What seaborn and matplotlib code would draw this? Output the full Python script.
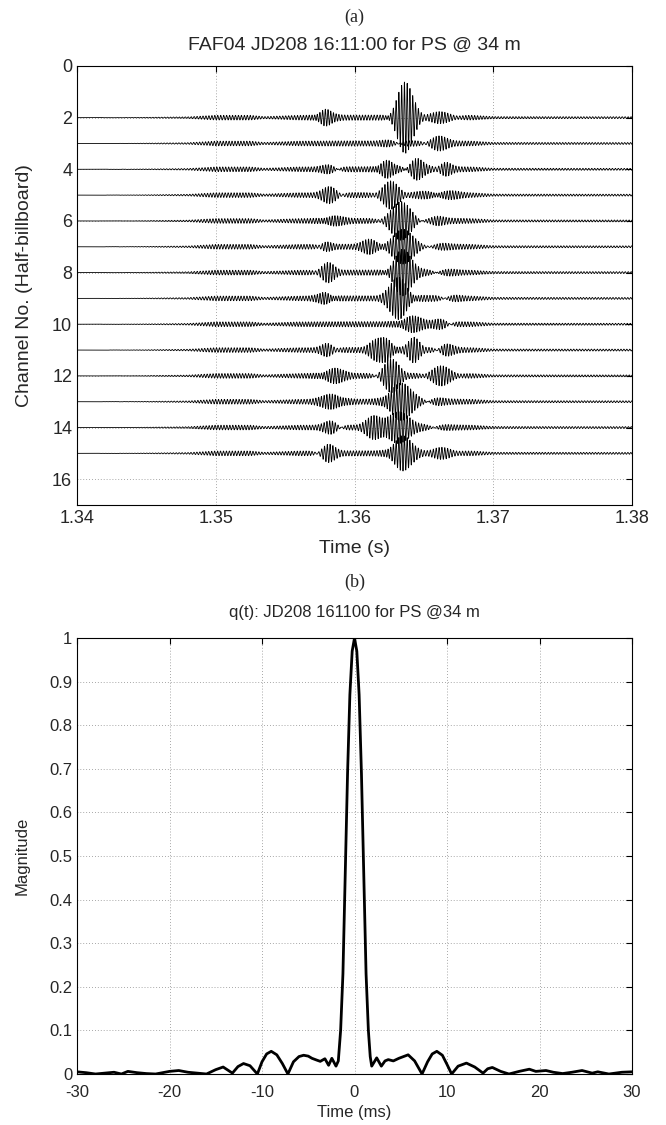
import numpy as np
import pandas as pd
import matplotlib
matplotlib.use("Agg")
import matplotlib.pyplot as plt
import seaborn as sns

# ---- panel (a): per-channel wave packets ----
# time offsets in ms from 1.34 s: (centre, amplitude in channel units, width sigma in ms)
channels = [2, 3, 4, 5, 6, 7, 8, 9, 10, 11, 12, 13, 14, 15]
packets = {
    2:  [(17.9, 0.42, 0.45), (23.6, 1.37, 0.55), (26.3, 0.12, 0.8)],
    3:  [(22.8, 0.12, 0.5), (25.9, 0.22, 0.6)],
    4:  [(18.3, 0.20, 0.45), (22.3, 0.45, 0.45), (24.4, 0.45, 0.45), (26.5, 0.20, 0.4)],
    5:  [(18.3, 0.28, 0.5), (22.6, 0.45, 0.55), (26.1, 0.20, 0.8)],
    6:  [(18.4, 0.28, 0.55), (23.4, 0.65, 0.75), (25.8, 0.10, 0.5)],
    7:  [(17.9, 0.15, 0.35), (21.2, 0.26, 0.5), (23.4, 0.58, 0.8), (25.8, 0.08, 0.6)],
    8:  [(18.05, 0.32, 0.45), (23.4, 0.90, 0.6), (26.0, 0.13, 0.7)],
    9:  [(17.9, 0.32, 0.45), (23.25, 0.84, 0.6), (26.8, 0.12, 0.5)],
    10: [(24.0, 0.39, 0.6), (26.4, 0.20, 0.45)],
    11: [(18.1, 0.20, 0.4), (21.5, 0.28, 0.4), (22.3, 0.52, 0.45), (24.3, 0.39, 0.4), (26.5, 0.23, 0.45)],
    12: [(18.4, 0.36, 0.6), (22.6, 0.58, 0.55), (26.2, 0.28, 0.7)],
    13: [(18.4, 0.39, 0.6), (23.25, 0.78, 0.7), (25.6, 0.15, 0.5)],
    14: [(18.4, 0.26, 0.45), (21.4, 0.36, 0.5), (23.0, 0.65, 0.75), (25.6, 0.10, 0.6)],
    15: [(18.05, 0.32, 0.45), (23.4, 0.75, 0.6), (26.3, 0.12, 0.7)],
}
# low-level background ripple shared by all traces (ms, channel units)
bg_t = [0, 4, 8, 10, 12.5, 13.5, 16, 19, 22, 26, 28.5, 30, 40]
bg_level = [0.0, 0.006, 0.03, 0.09, 0.09, 0.04, 0.09, 0.1, 0.1, 0.12, 0.09, 0.04, 0.035]
carrier_khz = 5.0

# ---- panel (b): q(t) magnitude ----
q_t = [-30, -29, -28, -27, -26, -25.2, -24.5, -23.5, -22.5, -21.5, -20.5, -20, -19, -18,
       -17, -16, -15, -14.2, -13.2, -12.6, -12, -11.3, -10.5, -10.0, -9.5, -9.0, -8.4,
       -7.8, -7.2, -6.6, -6.0, -5.5, -5.0, -4.6, -4.1, -3.7, -3.2, -2.8, -2.45, -2.0,
       -1.75, -1.5, -1.25, -1.0, -0.75, -0.5, -0.25, 0, 0.25, 0.5, 0.75, 1.0, 1.25, 1.5,
       1.7, 1.86, 2.4, 2.9, 3.3, 3.65, 4.2, 4.8, 5.8, 6.5, 7.3, 7.9, 8.4, 8.9, 9.5, 10.0,
       10.5, 11.2, 12.1, 13.0, 13.9, 14.4, 14.9, 15.8, 16.7, 17.8, 18.9, 19.6, 20.7, 21.5,
       22.5, 23.5, 24.6, 25.7, 26.3, 27.5, 28.9, 30]
q_mag = [0.005, 0.003, 0.0, 0.002, 0.004, 0.0, 0.006, 0.003, 0.001, 0.0, 0.004, 0.006,
         0.008, 0.004, 0.002, 0.0, 0.01, 0.016, 0.002, 0.017, 0.024, 0.019, 0.0, 0.028,
         0.046, 0.052, 0.044, 0.024, 0.0, 0.028, 0.04, 0.043, 0.041, 0.036, 0.032, 0.029,
         0.035, 0.02, 0.036, 0.018, 0.03, 0.1, 0.23, 0.46, 0.69, 0.87, 0.97, 1.0, 0.97,
         0.87, 0.69, 0.46, 0.23, 0.1, 0.04, 0.018, 0.037, 0.018, 0.03, 0.033, 0.03, 0.036,
         0.044, 0.03, 0.0, 0.028, 0.046, 0.052, 0.043, 0.022, 0.0, 0.018, 0.025, 0.016,
         0.002, 0.012, 0.015, 0.006, 0.0, 0.006, 0.011, 0.006, 0.008, 0.004, 0.001, 0.004,
         0.008, 0.002, 0.005, 0.0, 0.004, 0.005]

# build traces
t_ms = np.arange(0, 40.0001, 0.01)
rows = []
for ch in channels:
    sig = np.interp(t_ms, bg_t, bg_level) * np.cos(2 * np.pi * 4.7 * t_ms + ch)
    for c, a, w in packets[ch]:
        sig = sig + a * np.exp(-0.5 * ((t_ms - c) / w) ** 2) * np.cos(2 * np.pi * carrier_khz * (t_ms - c))
    rows.append(pd.DataFrame({"t": 1.34 + t_ms / 1000.0, "y": ch - sig, "channel": ch}))
traces = pd.concat(rows, ignore_index=True)
qdf = pd.DataFrame({"t": q_t, "mag": q_mag})

sns.set_style("white")
plt.rcParams["font.family"] = ["Liberation Sans", "DejaVu Sans"]
plt.rcParams["axes.unicode_minus"] = False

fig = plt.figure(figsize=(6.66, 11.25), dpi=100)
ax_a = fig.add_axes([77 / 666, 1 - 505 / 1125, 555 / 666, 439 / 1125])
ax_b = fig.add_axes([77 / 666, 1 - 1074 / 1125, 555 / 666, 436 / 1125])

sns.lineplot(data=traces, x="t", y="y", units="channel", estimator=None, sort=False,
             color="black", lw=0.6, ax=ax_a)
ax_a.set_xlim(1.34, 1.38)
ax_a.set_ylim(17, 0)
ax_a.set_xticks([1.34, 1.35, 1.36, 1.37, 1.38])
ax_a.set_xticklabels(["1.34", "1.35", "1.36", "1.37", "1.38"])
ax_a.set_yticks(range(0, 17, 2))
ax_a.set_xlabel("Time (s)", fontsize=14)
ax_a.set_ylabel("Channel No. (Half-billboard)", fontsize=14)
ax_a.tick_params(labelsize=13)

sns.lineplot(data=qdf, x="t", y="mag", color="black", lw=2.0, ax=ax_b)
ax_b.set_xlim(-30, 30)
ax_b.set_ylim(0, 1)
ax_b.set_xticks(range(-30, 31, 10))
ax_b.set_yticks(np.round(np.arange(0, 1.01, 0.1), 1))
ax_b.set_yticklabels(["0", "0.1", "0.2", "0.3", "0.4", "0.5", "0.6", "0.7", "0.8", "0.9", "1"])
ax_b.set_xlabel("Time (ms)", fontsize=12)
ax_b.set_ylabel("Magnitude", fontsize=12)
ax_b.tick_params(labelsize=12)
ax_b.tick_params(axis="x", pad=8)

for ax in (ax_a, ax_b):
    ax.grid(True, linestyle=(0, (1, 2.5)), color="#8a8a8a", lw=0.6)
    ax.tick_params(direction="in", length=4, width=0.8, top=True, right=True, color="black")
    for s in ax.spines.values():
        s.set_color("black")
        s.set_linewidth(0.8)
        s.set_visible(True)

ax_a.xaxis.set_label_coords(0.5, -0.08)
ax_a.yaxis.set_label_coords(-0.08, 0.5)
ax_b.xaxis.set_label_coords(0.5, -0.07)
ax_b.yaxis.set_label_coords(-0.085, 0.5)

fig.text(354.5 / 666, 1 - 17 / 1125, "(a)", ha="center", va="center", fontsize=13,
         family=["Liberation Serif", "DejaVu Serif"])
fig.text(354.5 / 666, 1 - 45 / 1125, "FAF04 JD208 16:11:00 for PS @ 34 m", ha="center",
         va="center", fontsize=14)
fig.text(354.5 / 666, 1 - 582 / 1125, "(b)", ha="center", va="center", fontsize=13,
         family=["Liberation Serif", "DejaVu Serif"])
fig.text(354.5 / 666, 1 - 613 / 1125, "q(t): JD208 161100 for PS @34 m", ha="center",
         va="center", fontsize=12)

fig.savefig("out.png", dpi=100)
